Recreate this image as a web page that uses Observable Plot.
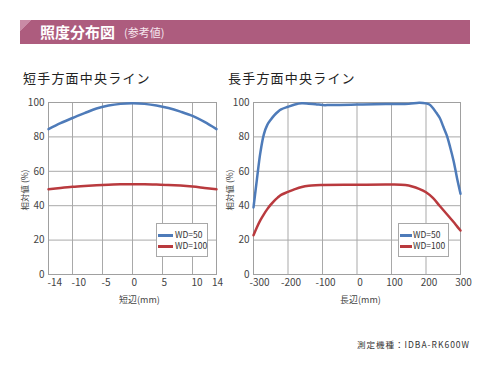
<!DOCTYPE html>
<html><head><meta charset="utf-8">
<script src="https://cdn.jsdelivr.net/npm/d3@7"></script>
<script src="https://cdn.jsdelivr.net/npm/@observablehq/plot@0.6"></script>
<style>
body{margin:0;width:490px;height:370px;position:relative;background:#fff;font-family:'Noto Sans CJK JP','Noto Sans',sans-serif;color:#333;overflow:hidden}
.abs{position:absolute}
#hdr{left:20px;top:20px;width:450px;height:24px;background:linear-gradient(135deg,#c98aa6 0,#c98aa6 8px,#ad5c7e 8px)}
#hdr .t{position:absolute;left:20px;top:2px;color:#fff;font-weight:bold;font-size:15px;line-height:20px}
#hdr .s{position:absolute;left:104px;top:4px;color:#f6e6ee;font-size:11px;line-height:16px}
.ttl{font-size:13px;letter-spacing:1.2px;color:#222;line-height:16px}
.ylab{font-size:8.5px;color:#444;transform:rotate(-90deg);transform-origin:center;white-space:nowrap;width:50px;text-align:center;line-height:10px}
.xlab{font-size:9px;color:#444;white-space:nowrap}
.leg{background:#fff;border:1px solid #a8a8a8;box-sizing:border-box}
.leg .ln{position:absolute;height:2.5px}
.leg .tx{position:absolute;font-size:8.5px;line-height:9px;color:#333;white-space:nowrap}
.cap{font-size:8.5px;letter-spacing:1px;color:#333;white-space:nowrap}
svg{overflow:visible}
</style></head>
<body>
<div id="hdr" class="abs"><span class="t">照度分布図</span><span class="s">(参考値)</span></div>
<div class="abs ttl" style="left:23px;top:70px">短手方面中央ライン</div>
<div class="abs ttl" style="left:228px;top:70px">長手方面中央ライン</div>
<div id="c1" class="abs" style="left:0;top:90px"></div>
<div id="c2" class="abs" style="left:205px;top:90px"></div>
<div class="abs ylab" style="left:-1px;top:185px">相対値 (%)</div>
<div class="abs ylab" style="left:204px;top:185px">相対値 (%)</div>
<div class="abs xlab" style="left:119px;top:293px">短辺(mm)</div>
<div class="abs xlab" style="left:340px;top:293px">長辺(mm)</div>
<div class="abs leg" style="left:156px;top:223px;width:52px;height:34px">
  <div class="ln" style="left:1px;top:10px;width:15px;background:#4e7bb9"></div><div class="tx" style="left:18px;top:6px">WD=50</div>
  <div class="ln" style="left:1px;top:21px;width:15px;background:#b93a3e"></div><div class="tx" style="left:18px;top:17px">WD=100</div>
</div>
<div class="abs leg" style="left:398px;top:223px;width:51px;height:34px">
  <div class="ln" style="left:1px;top:10px;width:12px;background:#4e7bb9"></div><div class="tx" style="left:14px;top:6px">WD=50</div>
  <div class="ln" style="left:1px;top:21px;width:12px;background:#b93a3e"></div><div class="tx" style="left:14px;top:17px">WD=100</div>
</div>
<div class="abs cap" style="left:357px;top:338px">測定機種：IDBA-RK600W</div>
<script>
const seriesNames = ["WD=50", "WD=100"];
const seriesColors = ["#4e7bb9", "#b93a3e"];
const yTicks = [0, 20, 40, 60, 80, 100];

const shortX = [-14,-12,-10,-8,-6,-4,-2,0,2,4,6,8,10,12,14];
const short50 = [84.5,88,91,93.8,96.5,98.2,99.2,99.5,99.2,98.3,96.8,94.7,92.2,88.7,84.5];
const short100 = [49.5,50.3,51,51.5,51.9,52.2,52.4,52.5,52.5,52.3,52.1,51.7,51.1,50.3,49.5];
const shortTicks = [-14,-10,-5,0,5,10,14];

const longX50 = [-300,-290,-280,-270,-260,-250,-240,-230,-220,-200,-180,-160,-140,-120,-100,-80,-50,0,50,100,150,180,200,210,220,230,240,250,260,270,280,290,300];
const long50 = [39,55.5,71,81.5,87,90,92.5,94.5,96,97.5,98.8,99.5,99.3,99,98.5,98.5,98.6,98.8,99,99.1,99.2,99.8,99.5,98.8,96.8,94,91,86,81,74,66,56,47];
const longX100 = [-300,-290,-280,-270,-260,-250,-240,-230,-220,-200,-180,-160,-140,-120,-100,0,100,140,160,180,200,220,240,260,280,290,300];
const long100 = [22.8,27.5,31.6,35,38,40.6,42.8,44.7,46.3,48,49.6,50.9,51.6,51.9,52,52.2,52.3,52,51.2,49.8,47.8,44.5,39.8,35.2,30.5,28,25.6];
const longTicks = [-300,-200,-100,0,100,200,300];

function rows(xs, ys, name){ return xs.map((x,i)=>({x, y: ys[i], s: name})); }
const fmt = d => String(d);
const common = {
  height: 220, marginTop: 12, marginBottom: 36,
  style: {fontFamily: "'Noto Sans CJK JP','Noto Sans',sans-serif", fontSize: "10px", color: "#444", background: "transparent", overflow: "visible"},
  y: {domain: [0, 100]},
  color: {domain: seriesNames, range: seriesColors}
};

const d1 = [...rows(shortX, short50, seriesNames[0]), ...rows(shortX, short100, seriesNames[1])];
const c1 = Plot.plot({
  ...common, width: 235, marginLeft: 48, marginRight: 19,
  x: {domain: [-14, 14]},
  marks: [
    Plot.gridX(shortTicks, {stroke: "#a9a9a9", strokeOpacity: 1}),
    Plot.gridY(yTicks, {stroke: "#a9a9a9", strokeOpacity: 1}),
    Plot.frame({stroke: "#a0a0a0"}),
    Plot.axisY(yTicks, {tickSize: 0, tickPadding: 4, tickFormat: fmt, label: null}),
    Plot.axisX(shortTicks.filter(d => d !== 14), {tickSize: 0, tickPadding: 4, tickFormat: fmt, label: null, textAnchor: "start", dx: -1}),
    Plot.axisX([14], {tickSize: 0, tickPadding: 4, tickFormat: fmt, label: null, dx: 1}),
    Plot.line(d1, {x: "x", y: "y", z: "s", stroke: "s", strokeWidth: 2.5, curve: "catmull-rom"})
  ]
});
document.getElementById("c1").append(c1);

const d2 = [...rows(longX50, long50, seriesNames[0]), ...rows(longX100, long100, seriesNames[1])];
const c2 = Plot.plot({
  ...common, width: 285, marginLeft: 48, marginRight: 30,
  x: {domain: [-300, 300]},
  marks: [
    Plot.gridX(longTicks, {stroke: "#a9a9a9", strokeOpacity: 1}),
    Plot.gridY(yTicks, {stroke: "#a9a9a9", strokeOpacity: 1}),
    Plot.frame({stroke: "#a0a0a0"}),
    Plot.axisY(yTicks, {tickSize: 0, tickPadding: 4, tickFormat: fmt, label: null}),
    Plot.axisX(longTicks.filter(d => d !== -300), {tickSize: 0, tickPadding: 4, tickFormat: fmt, label: null, dx: 3}),
    Plot.axisX([-300], {tickSize: 0, tickPadding: 4, tickFormat: fmt, label: null, dx: 6}),
    Plot.line(d2, {x: "x", y: "y", z: "s", stroke: "s", strokeWidth: 2.5, curve: "catmull-rom"})
  ]
});
document.getElementById("c2").append(c2);
</script>
</body></html>
